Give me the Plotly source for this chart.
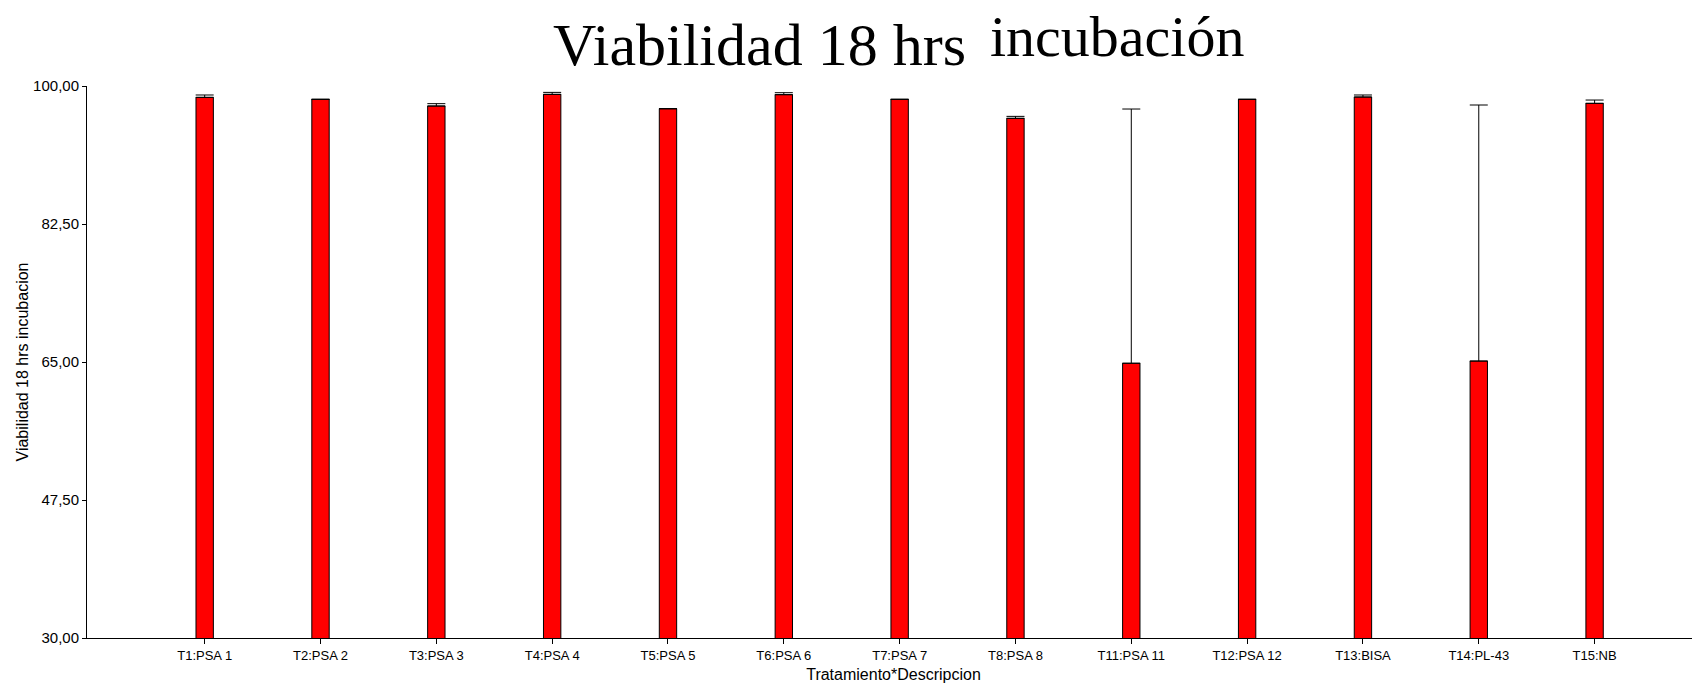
import plotly.graph_objects as go

categories = ["T1:PSA 1", "T2:PSA 2", "T3:PSA 3", "T4:PSA 4", "T5:PSA 5", "T6:PSA 6",
              "T7:PSA 7", "T8:PSA 8", "T11:PSA 11", "T12:PSA 12", "T13:BISA", "T14:PL-43", "T15:NB"]
means = [98.56, 98.31, 97.46, 98.94, 97.12, 98.90, 98.31, 95.90, 64.84, 98.31, 98.60, 65.12, 97.80]
errors = [0.30, 0.0, 0.30, 0.25, 0.0, 0.25, 0.0, 0.25, 32.24, 0.0, 0.26, 32.47, 0.42]
y_ticks = [30, 47.5, 65, 82.5, 100]

W, H = 1700, 687
L, R, T, B = 79, 8, 78, 57
plot_w = W - L - R
plot_h = H - T - B

def px_x(p):
    return (p - L) / plot_w

def px_y(p):
    return (H - B - p) / plot_h

fig = go.Figure()
fig.add_trace(go.Bar(
    x=categories, y=means, width=0.15,
    marker=dict(color="#FF0000", line=dict(color="#000000", width=1)),
    error_y=dict(type="data", symmetric=False, array=errors, arrayminus=[0] * len(errors),
                 color="#000000", thickness=1, width=9),
    showlegend=False,
))

fig.update_layout(
    width=W, height=H,
    margin=dict(l=L, r=R, t=T, b=B, pad=0),
    paper_bgcolor="white", plot_bgcolor="white",
    separators=",.",
    font=dict(family="Liberation Sans, Arial, sans-serif", size=13, color="#000000"),
    xaxis=dict(
        type="category", range=[-1.016, 12.91],
        showline=True, linecolor="#000000", linewidth=1,
        ticks="outside", ticklen=5, tickcolor="#000000", tickwidth=1,
        showgrid=False, zeroline=False,
        tickfont=dict(size=13),
        title=dict(text="Tratamiento*Descripcion", font=dict(size=16), standoff=7),
    ),
    yaxis=dict(
        range=[30, 100], tickvals=y_ticks, tickformat=".2f",
        showline=True, linecolor="#000000", linewidth=1,
        ticks="outside", ticklen=4, tickcolor="#000000", tickwidth=1,
        showgrid=False, zeroline=False,
        tickfont=dict(size=15),
        title=dict(text="Viabilidad 18 hrs incubacion", font=dict(size=16), standoff=0),
    ),
    annotations=[
        dict(text="Viabilidad 18 hrs", xref="paper", yref="paper",
             x=px_x(542.5), y=px_y(37), xanchor="left", yanchor="middle",
             showarrow=False, font=dict(family="Liberation Serif, Times New Roman, serif", size=60, color="#000000")),
        dict(text="incubación", xref="paper", yref="paper",
             x=px_x(979.5), y=px_y(29), xanchor="left", yanchor="middle",
             showarrow=False, font=dict(family="Liberation Serif, Times New Roman, serif", size=58, color="#000000")),
    ],
)

fig.write_html("out.html")
